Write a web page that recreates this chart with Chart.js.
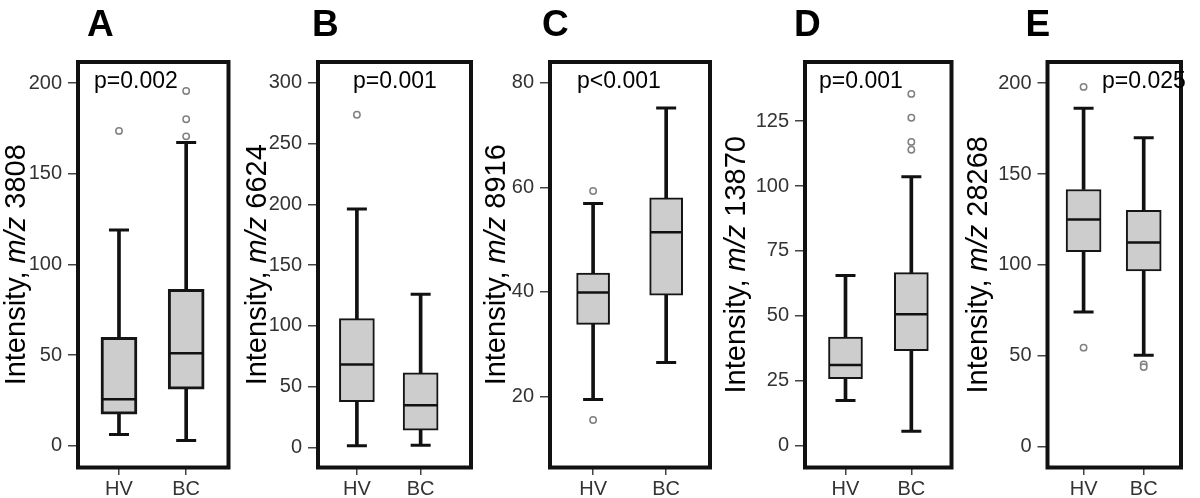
<!DOCTYPE html>
<html lang="en">
<head>
<meta charset="UTF-8">
<title>Intensity box plots, HV vs BC</title>
<style>
    body { margin: 0; background: #fff; }
    #wrap { position: relative; width: 1200px; height: 498px; overflow: hidden; }
    #wrap canvas { position: absolute; top: 0; }
</style>
</head>
<body>
<div id="wrap"></div>
<script src="https://cdn.jsdelivr.net/npm/chart.js"></script>
<script>
// ---- data ----
const categories = ['HV', 'BC'];
const panelLetters = ['A', 'B', 'C', 'D', 'E'];
const massLabels = ['3808', '6624', '8916', '13870', '28268'];
const pValues = ['p=0.002', 'p=0.001', 'p<0.001', 'p=0.001', 'p=0.025'];

// [lower whisker, Q1, median, Q3, upper whisker]
const hvStats = [
    [6.2, 17.4, 25.7, 59.8, 118.9],
    [1.4, 37.7, 68.2, 105.9, 196.2],
    [19.4, 33.8, 39.9, 43.6, 56.9],
    [17.3, 25.7, 31, 41.8, 65.5],
    [74, 107.2, 125, 141.5, 186.2]
];
const bcStats = [
    [2.9, 31.2, 51, 86.2, 167.2],
    [1.9, 14.3, 34.7, 61.4, 126],
    [26.5, 39.4, 51.4, 58, 75.2],
    [5.5, 36.5, 50.6, 66.6, 103.6],
    [50.2, 96.7, 112.3, 130, 170]
];
const hvOutliers = [[173.6], [273.6], [59.3, 15.5], [], [198, 54.4]];
const bcOutliers = [[195.6, 180, 170.6], [], [], [135.5, 126.3, 117, 114], [45.2, 43.7]];

const yTicks = [
    [0, 50, 100, 150, 200],
    [0, 50, 100, 150, 200, 250, 300],
    [20, 40, 60, 80],
    [0, 25, 50, 75, 100, 125],
    [0, 50, 100, 150, 200]
];
const yRanges = [[-12, 211.6], [-16.5, 317], [6.4, 84], [-8.5, 147.8], [-11.6, 211.7]];

// ---- layout (pixels) ----
const canvasLeft = [0, 240, 480, 720, 960];
const canvasWidth = [250, 250, 250, 250, 240];
const frameLeft = [78, 318, 550, 805, 1047.5];
const frameRight = [228.5, 479, 710, 953.3, 1197.5];
const xRanges = [[-0.61, 1.63], [-0.61, 1.79], [-0.59, 1.6], [-0.615, 1.61], [-0.6, 1.62]];
const boxWidth = [36, 35, 33, 34, 35];
const boxBorder = [3, 2, 2, 2, 2];
const letterDx = [9, -6, -8, -11, -22];
const titleDx = [-53, -52.5, -45, -60, -60.5];
const pDx = [16, 35, 27, 14, 54.5];

const FONT = '"Liberation Sans", Arial, Helvetica, sans-serif';

// frame, panel letter, p-value and axis title (with italic m/z)
const panelDecor = {
    id: 'panelDecor',
    afterDraw(chart, args, opts) {
        const ctx = chart.ctx;
        const a = chart.chartArea;
        ctx.save();
        ctx.lineWidth = 4;
        ctx.strokeStyle = '#111';
        ctx.strokeRect(a.left, a.top, a.right - a.left, a.bottom - a.top);

        ctx.fillStyle = '#000';
        ctx.textAlign = 'left';
        ctx.textBaseline = 'alphabetic';
        ctx.font = 'bold 37px ' + FONT;
        ctx.fillText(opts.letter, a.left + opts.letterDx, 36);

        ctx.font = '23px ' + FONT;
        ctx.textBaseline = 'middle';
        ctx.fillText(opts.p, a.left + opts.pDx, a.top + 20);

        ctx.translate(a.left + opts.titleDx, (a.top + a.bottom) / 2);
        ctx.rotate(-Math.PI / 2);
        ctx.textBaseline = 'alphabetic';
        const parts = [
            { t: 'Intensity, ', f: '29px ' + FONT },
            { t: 'm/z', f: 'italic 29px ' + FONT },
            { t: ' ' + opts.mass, f: '29px ' + FONT }
        ];
        let total = 0;
        parts.forEach(p => { ctx.font = p.f; p.w = ctx.measureText(p.t).width; total += p.w; });
        let x = -total / 2;
        parts.forEach(p => { ctx.font = p.f; ctx.fillText(p.t, x, 0); x += p.w; });
        ctx.restore();
    }
};

const wrap = document.getElementById('wrap');

for (let i = 0; i < panelLetters.length; i++) {
    const canvas = document.createElement('canvas');
    canvas.width = canvasWidth[i];
    canvas.height = 498;
    canvas.style.left = canvasLeft[i] + 'px';
    wrap.appendChild(canvas);

    const stats = [hvStats[i], bcStats[i]];
    const outliers = [
        ...hvOutliers[i].map(v => ({ x: 0, y: v })),
        ...bcOutliers[i].map(v => ({ x: 1, y: v }))
    ];
    const yAxisWidth = frameLeft[i] - canvasLeft[i];
    const padRight = canvasWidth[i] - (frameRight[i] - canvasLeft[i]);

    new Chart(canvas, {
        type: 'bar',
        data: {
            datasets: [
                {
                    label: 'lower whisker',
                    data: stats.map((s, k) => ({ x: k, y: [s[0], s[1]] })),
                    backgroundColor: '#111',
                    barThickness: 3,
                    grouped: false,
                    order: 5
                },
                {
                    label: 'upper whisker',
                    data: stats.map((s, k) => ({ x: k, y: [s[3], s[4]] })),
                    backgroundColor: '#111',
                    barThickness: 3,
                    grouped: false,
                    order: 4
                },
                {
                    label: 'box',
                    data: stats.map((s, k) => ({ x: k, y: [s[1], s[3]] })),
                    backgroundColor: '#cdcdcd',
                    borderColor: '#151515',
                    borderWidth: boxBorder[i],
                    borderSkipped: false,
                    barThickness: boxWidth[i],
                    grouped: false,
                    order: 3
                },
                {
                    type: 'scatter',
                    label: 'caps',
                    data: stats.flatMap((s, k) => [{ x: k, y: s[0] }, { x: k, y: s[4] }]),
                    pointStyle: 'line',
                    pointRadius: 10,
                    pointBorderWidth: 3,
                    borderColor: '#111',
                    order: 2
                },
                {
                    type: 'scatter',
                    label: 'median',
                    data: stats.map((s, k) => ({ x: k, y: s[2] })),
                    pointStyle: 'line',
                    pointRadius: boxWidth[i] / 2 - 1,
                    pointBorderWidth: 2.5,
                    borderColor: '#111',
                    order: 1
                },
                {
                    type: 'scatter',
                    label: 'outliers',
                    data: outliers,
                    pointStyle: 'circle',
                    pointRadius: 3.2,
                    pointBorderWidth: 1.5,
                    borderColor: '#808080',
                    backgroundColor: '#fff',
                    order: 0
                }
            ]
        },
        options: {
            responsive: false,
            animation: false,
            events: [],
            layout: { padding: { left: 0, right: padRight, top: 62, bottom: 0 } },
            scales: {
                x: {
                    type: 'linear',
                    offset: false,
                    min: xRanges[i][0],
                    max: xRanges[i][1],
                    afterBuildTicks: s => { s.ticks = categories.map((c, k) => ({ value: k })); },
                    afterFit: s => { s.height = 30.5; },
                    ticks: {
                        callback: v => categories[v],
                        autoSkip: false,
                        maxRotation: 0,
                        padding: 2,
                        color: '#333',
                        font: { family: FONT, size: 20 }
                    },
                    grid: { offset: false, drawOnChartArea: false, tickLength: 7.5, color: '#444', lineWidth: 1.5 },
                    border: { display: false }
                },
                y: {
                    type: 'linear',
                    min: yRanges[i][0],
                    max: yRanges[i][1],
                    afterBuildTicks: s => { s.ticks = yTicks[i].map(v => ({ value: v })); },
                    afterFit: s => { s.width = yAxisWidth; },
                    ticks: {
                        padding: 6,
                        color: '#333',
                        font: { family: FONT, size: 20 }
                    },
                    grid: { drawOnChartArea: false, tickLength: 10, color: '#444', lineWidth: 1.5 },
                    border: { display: false }
                }
            },
            plugins: {
                legend: { display: false },
                tooltip: { enabled: false },
                panelDecor: {
                    letter: panelLetters[i],
                    p: pValues[i],
                    mass: massLabels[i],
                    letterDx: letterDx[i],
                    titleDx: titleDx[i],
                    pDx: pDx[i]
                }
            }
        },
        plugins: [panelDecor]
    });
}
</script>
</body>
</html>
